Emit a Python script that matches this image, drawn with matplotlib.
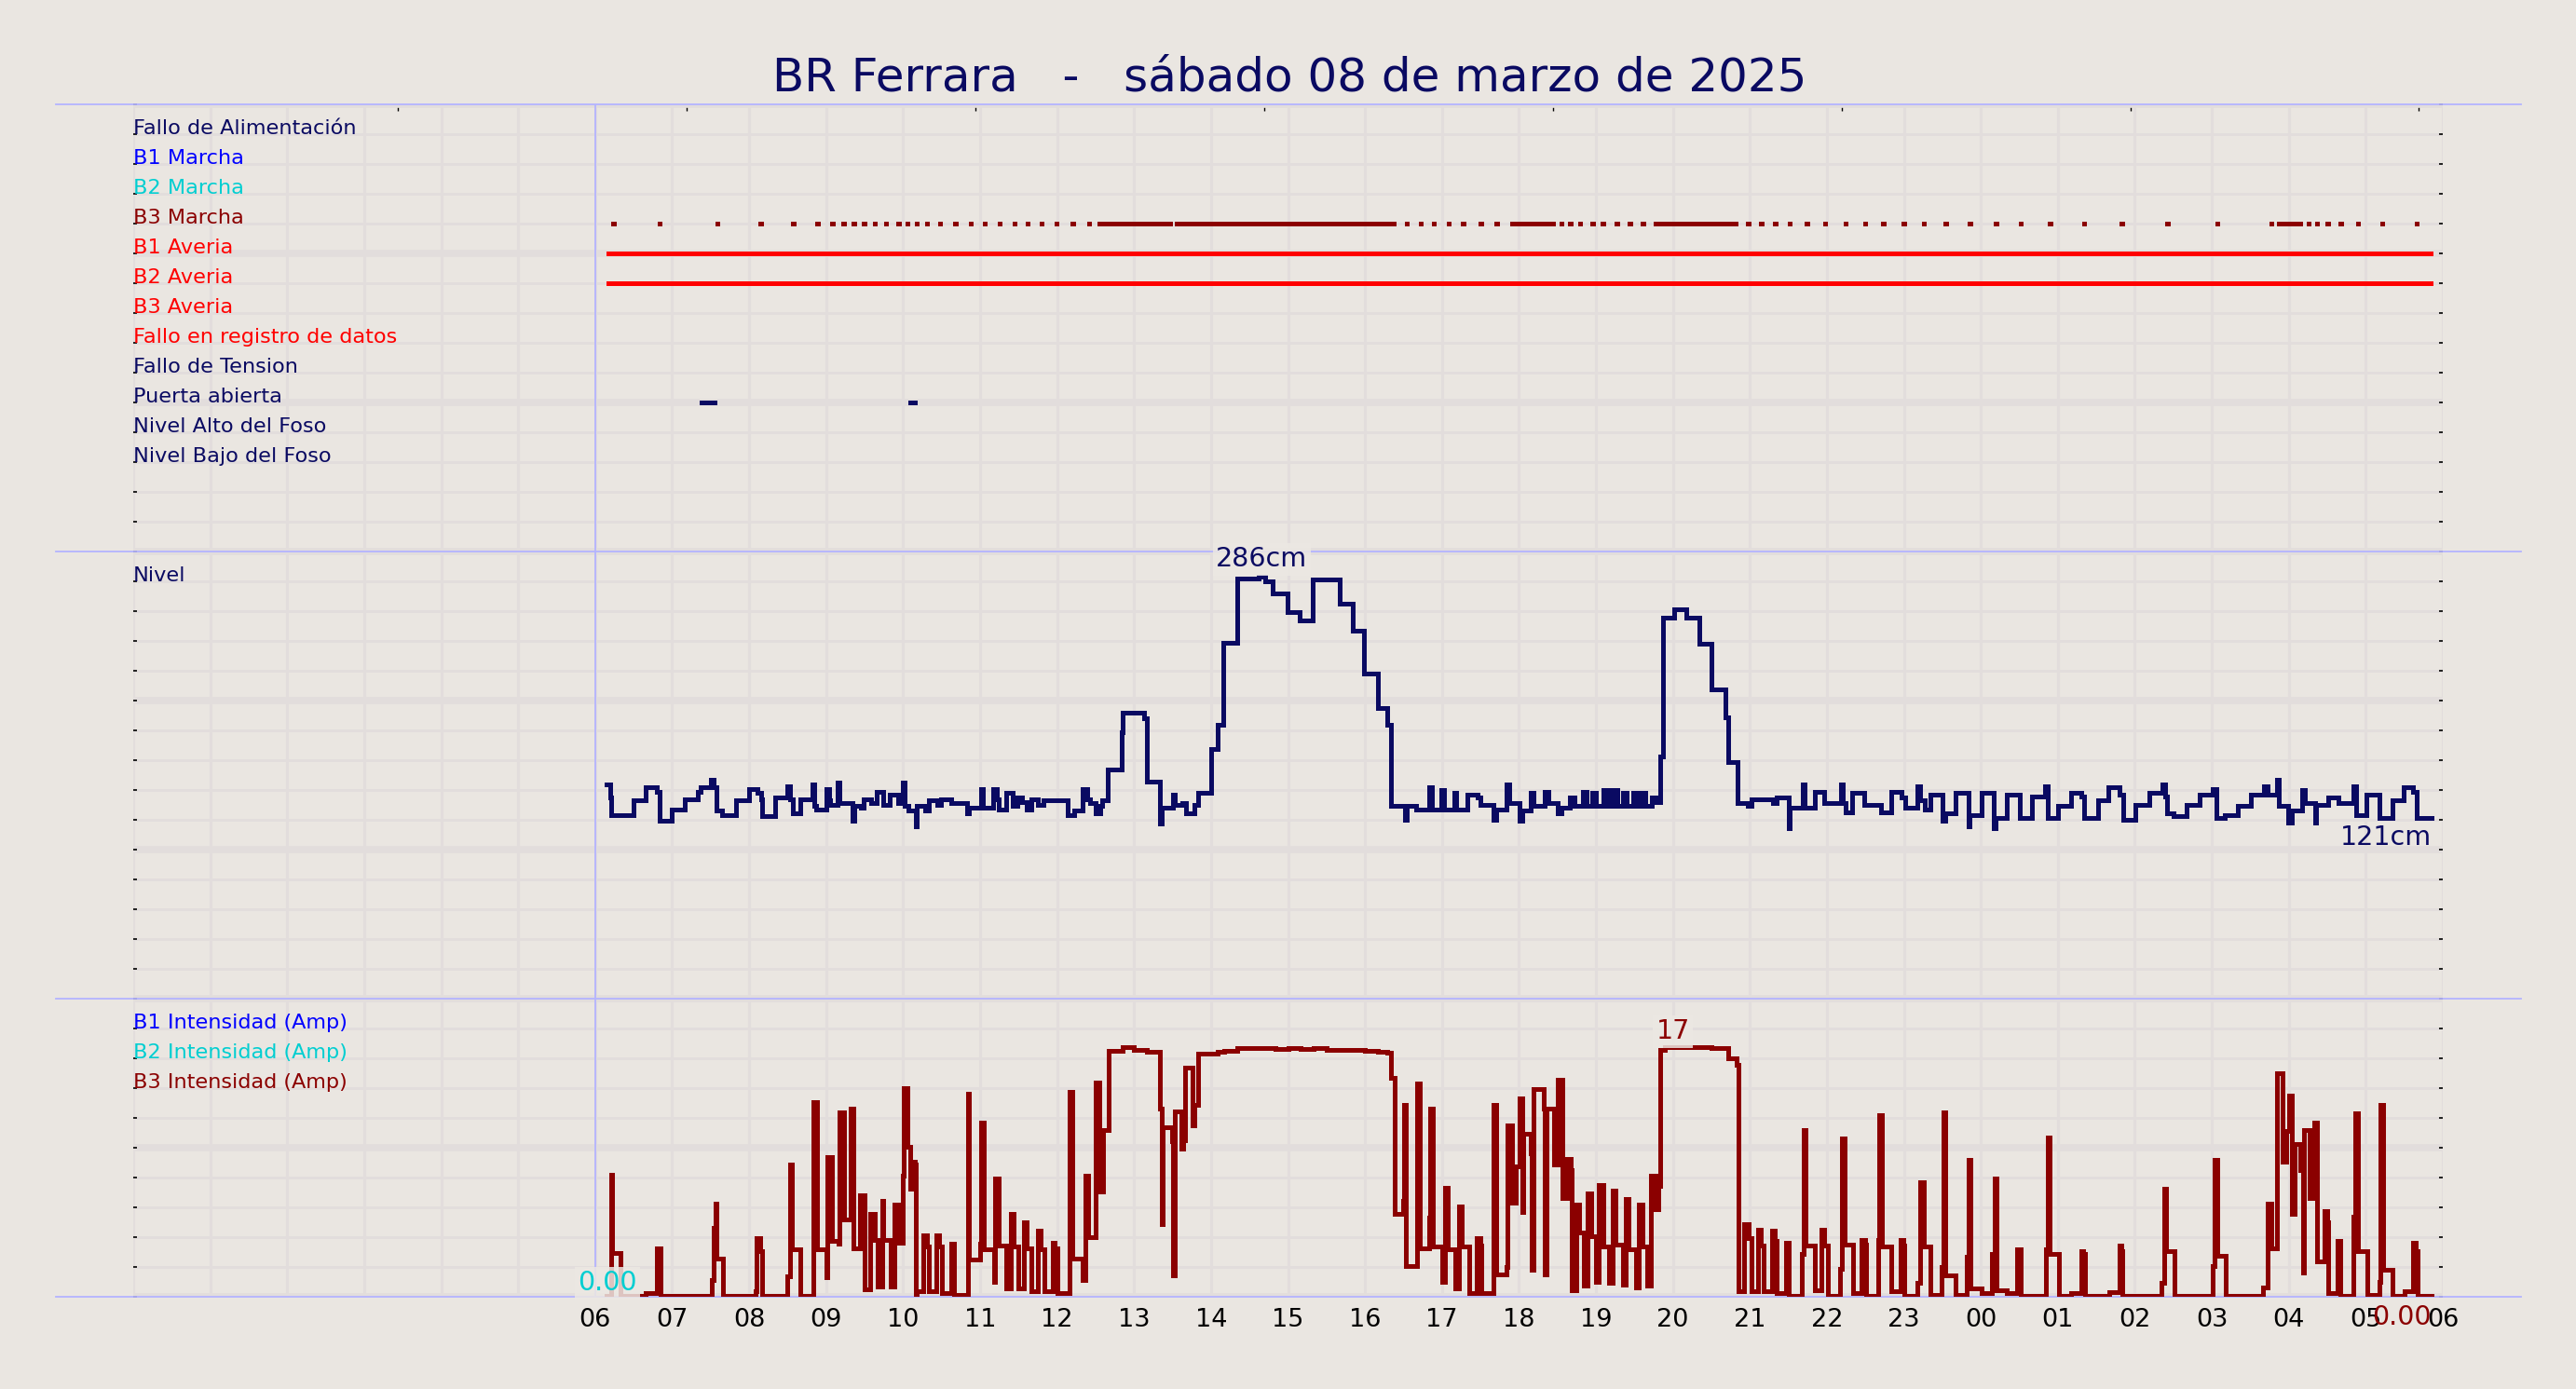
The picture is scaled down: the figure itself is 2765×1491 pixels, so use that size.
import numpy as np
import matplotlib
matplotlib.use("Agg")
import matplotlib.pyplot as plt

BG = "#eae6e1"
GRID = "#e2dddc"
SEP = "#b4b4ff"
NAVY = "#0a0a62"
BOX = dict(boxstyle="square,pad=0.12", fc="#ece8e3", ec="none", alpha=0.85)

title = "BR Ferrara   -   sábado 08 de marzo de 2025"

# x axis: hours from 00:00 of the day before to 06:00 of the next day
hour_ticks = list(range(6, 31))
hour_labels = ["06", "07", "08", "09", "10", "11", "12", "13", "14", "15", "16", "17",
               "18", "19", "20", "21", "22", "23", "00", "01", "02", "03", "04", "05", "06"]
top_ticks = [3.44, 7.19, 10.94, 14.69, 18.44, 22.19, 25.94, 29.69]

# status rows (top panel)
status_labels = ["Fallo de Alimentación", "B1 Marcha", "B2 Marcha", "B3 Marcha",
                 "B1 Averia", "B2 Averia", "B3 Averia", "Fallo en registro de datos",
                 "Fallo de Tension", "Puerta abierta", "Nivel Alto del Foso", "Nivel Bajo del Foso"]
status_colors = [NAVY, "blue", "darkturquoise", "darkred", "red", "red", "red", "red",
                 NAVY, NAVY, NAVY, NAVY]

b3_marcha_starts = [6.210, 6.812, 7.560, 8.120, 8.544, 8.858, 9.053, 9.198, 9.333, 9.469,
                    9.605, 9.750, 9.911, 10.030, 10.148, 10.284, 10.455, 10.650, 10.853,
                    11.032, 11.227, 11.422, 11.592, 11.770, 11.965, 12.178, 12.390, 12.526,
                    16.516, 16.695, 16.864, 17.060, 17.247, 17.475, 17.680, 17.883, 18.524,
                    18.640, 18.766, 18.928, 19.063, 19.243, 19.413, 19.584, 19.746, 20.950,
                    21.122, 21.301, 21.490, 21.715, 21.948, 22.218, 22.470, 22.703, 22.973,
                    23.234, 23.513, 23.828, 24.169, 24.493, 24.871, 25.311, 25.805, 26.399,
                    27.046, 27.747, 28.232, 28.340, 28.475, 28.646, 28.871, 29.186, 29.635]
b3_marcha_dash = 0.055
b3_marcha_runs = [(12.594, 13.494), (13.528, 16.397), (17.948, 18.465),
                  (19.809, 20.843), (27.846, 28.169)]
b1_averia = [(6.150, 29.861)]
b2_averia = [(6.150, 29.861)]
puerta_abierta = [(7.356, 7.577), (10.072, 10.173)]

# level (cm), step series
level_t = [6.150, 6.190, 6.205, 6.502, 6.660, 6.798, 6.833, 6.991, 7.159, 7.337, 7.366, 7.500,
           7.534, 7.574, 7.653, 7.830, 7.994, 8.107, 8.152, 8.166, 8.334, 8.497, 8.527, 8.562,
           8.660, 8.828, 8.843, 8.873, 9.006, 9.041, 9.056, 9.154, 9.179, 9.337, 9.367, 9.451,
           9.490, 9.584, 9.663, 9.737, 9.831, 9.935, 9.994, 10.019, 10.068, 10.167, 10.182,
           10.291, 10.330, 10.439, 10.498, 10.627, 10.834, 10.859, 11.007, 11.032, 11.170,
           11.219, 11.239, 11.338, 11.427, 11.486, 11.550, 11.600, 11.664, 11.753, 11.822,
           12.143, 12.217, 12.331, 12.390, 12.425, 12.499, 12.563, 12.588, 12.662, 12.835,
           12.850, 13.131, 13.163, 13.335, 13.360, 13.502, 13.533, 13.626, 13.669, 13.780,
           13.829, 13.996, 14.089, 14.163, 14.336, 14.620, 14.700, 14.799, 14.996, 15.157,
           15.324, 15.670, 15.836, 15.991, 16.164, 16.293, 16.336, 16.522, 16.545, 16.664,
           16.837, 16.868, 16.991, 17.022, 17.158, 17.189, 17.331, 17.467, 17.504, 17.670,
           17.701, 17.843, 17.874, 18.010, 18.041, 18.152, 18.189, 18.331, 18.380, 18.504,
           18.547, 18.658, 18.720, 18.831, 18.881, 18.948, 18.998, 19.091, 19.152, 19.214,
           19.276, 19.356, 19.399, 19.479, 19.541, 19.585, 19.646, 19.727, 19.770, 19.832,
           19.875, 20.017, 20.171, 20.338, 20.498, 20.677, 20.714, 20.838, 20.974, 21.023,
           21.295, 21.344, 21.499, 21.517, 21.684, 21.715, 21.838, 21.962, 22.178, 22.209,
           22.240, 22.332, 22.479, 22.700, 22.833, 22.967, 23.013, 23.180, 23.214, 23.267,
           23.347, 23.501, 23.534, 23.668, 23.835, 23.855, 24.015, 24.168, 24.188, 24.335,
           24.502, 24.669, 24.836, 24.870, 25.003, 25.170, 25.304, 25.337, 25.524, 25.657,
           25.804, 25.844, 26.005, 26.185, 26.359, 26.392, 26.419, 26.505, 26.672, 26.839,
           27.006, 27.060, 27.173, 27.340, 27.507, 27.674, 27.727, 27.841, 27.874, 27.994,
           28.041, 28.175, 28.208, 28.342, 28.355, 28.509, 28.642, 28.842, 28.876, 29.009,
           29.176, 29.343, 29.490, 29.610, 29.664, 29.853]
level_cm = [144, 135, 123, 133, 142, 139, 119, 127, 134, 139, 142, 147,
            142, 126, 123, 133, 141, 138, 134, 122, 135, 143, 134, 124,
            134, 144, 129, 127, 141, 133, 130, 145, 131, 119, 129, 128,
            134, 131, 139, 130, 137, 131, 145, 129, 126, 115, 129,
            126, 133, 130, 134, 131, 124, 128, 141, 128, 141,
            134, 127, 138, 129, 135, 132, 127, 134, 130, 133,
            123, 126, 141, 134, 131, 124, 129, 133, 154, 180,
            193, 189, 146, 117, 128, 137, 130, 131, 124, 130,
            138, 168, 185, 241, 285, 286, 283, 275, 262, 256,
            284, 268, 249, 220, 196, 185, 129, 120, 129, 127,
            142, 127, 140, 127, 138, 127, 137, 135, 130, 120,
            127, 144, 131, 119, 126, 138, 129, 139, 131, 124,
            128, 135, 129, 139, 129, 138, 129, 140, 129, 140,
            129, 138, 129, 138, 129, 138, 129, 135, 132, 163,
            258, 264, 258, 240, 209, 190, 159, 131, 129, 134,
            131, 135, 114, 128, 144, 128, 139, 131, 144, 131,
            125, 138, 130, 125, 139, 135, 128, 143, 133, 127,
            137, 119, 124, 138, 115, 123, 138, 114, 121, 137,
            121, 136, 143, 121, 129, 138, 136, 121, 133, 142,
            137, 120, 130, 138, 144, 136, 124, 122, 130, 137,
            141, 121, 123, 129, 137, 143, 137, 147, 129, 118,
            126, 140, 131, 118, 130, 135, 131, 143, 123, 137,
            121, 133, 142, 139, 121, 121]

# B3 current (A), step series
amp_t = [6.150, 6.210, 6.225, 6.330, 6.660, 6.800, 6.850, 7.510, 7.540, 7.560, 7.580, 7.660,
         8.080, 8.100, 8.140, 8.170, 8.500, 8.530, 8.550, 8.670, 8.840, 8.880, 9.000, 9.020,
         9.072, 9.161, 9.173, 9.230, 9.314, 9.322, 9.355, 9.443, 9.496, 9.504, 9.573, 9.633,
         9.673, 9.726, 9.746, 9.839, 9.887, 9.936, 10.000, 10.008, 10.061, 10.089, 10.129,
         10.149, 10.170, 10.178, 10.262, 10.311, 10.331, 10.432, 10.472, 10.504, 10.621,
         10.662, 10.843, 10.855, 11.005, 11.017, 11.045, 11.178, 11.198, 11.239, 11.339,
         11.400, 11.440, 11.501, 11.569, 11.602, 11.662, 11.755, 11.783, 11.836, 11.945,
         11.973, 12.005, 12.166, 12.195, 12.328, 12.368, 12.408, 12.501, 12.550, 12.598,
         12.671, 12.852, 12.993, 13.167, 13.336, 13.357, 13.377, 13.490, 13.510, 13.530,
         13.619, 13.639, 13.659, 13.760, 13.780, 13.832, 14.083, 14.171, 14.345, 14.837,
         15.011, 15.164, 15.333, 15.503, 15.999, 16.172, 16.293, 16.334, 16.390, 16.491,
         16.511, 16.535, 16.673, 16.713, 16.838, 16.850, 16.882, 17.007, 17.035, 17.076,
         17.177, 17.221, 17.261, 17.350, 17.451, 17.504, 17.512, 17.665, 17.673, 17.705,
         17.842, 17.854, 17.907, 17.963, 18.008, 18.048, 18.056, 18.157, 18.169, 18.189,
         18.326, 18.338, 18.359, 18.451, 18.500, 18.508, 18.560, 18.621, 18.669, 18.681,
         18.750, 18.782, 18.843, 18.895, 18.944, 19.004, 19.037, 19.093, 19.174, 19.218,
         19.259, 19.347, 19.388, 19.428, 19.517, 19.557, 19.601, 19.670, 19.718, 19.771,
         19.811, 19.839, 19.900, 20.100, 20.497, 20.719, 20.828, 20.848, 20.929, 20.981,
         21.021, 21.102, 21.142, 21.183, 21.284, 21.324, 21.344, 21.473, 21.505, 21.679,
         21.695, 21.727, 21.848, 21.929, 21.969, 22.010, 22.171, 22.191, 22.232, 22.345,
         22.453, 22.494, 22.514, 22.667, 22.675, 22.716, 22.837, 22.958, 22.998, 23.010,
         23.180, 23.212, 23.260, 23.349, 23.494, 23.510, 23.543, 23.676, 23.813, 23.837,
         23.865, 24.009, 24.145, 24.174, 24.198, 24.333, 24.469, 24.516, 24.847, 24.865,
         24.894, 25.012, 25.172, 25.307, 25.331, 25.355, 25.662, 25.797, 25.821, 25.839,
         26.341, 26.382, 26.411, 26.518, 27.007, 27.031, 27.067, 27.179, 27.669, 27.728,
         27.769, 27.846, 27.923, 27.964, 27.999, 28.041, 28.070, 28.153, 28.188, 28.200,
         28.271, 28.336, 28.365, 28.466, 28.495, 28.513, 28.631, 28.672, 28.837, 28.867,
         28.896, 29.014, 29.174, 29.191, 29.221, 29.351, 29.499, 29.617, 29.646, 29.676,
         29.853]
b3_amp = [0.0, 8.4, 3.0, 0.0, 0.2, 3.3, 0.0, 1.1, 4.7, 6.4, 2.6, 0.0,
          0.3, 4.0, 3.1, 0.0, 1.35, 9.1, 3.2, 0.0, 13.4, 3.2, 1.3, 9.6,
          3.8, 3.6, 12.7, 5.3, 7.0, 13.0, 3.3, 7.0, 6.3, 0.45, 5.7, 3.9,
          0.65, 6.6, 3.9, 0.65, 6.3, 3.7, 8.3, 14.4, 10.3, 7.4, 9.3,
          9.1, 0.1, 0.3, 4.2, 3.4, 0.3, 4.2, 3.4, 0.2, 3.6,
          0.1, 14.0, 2.5, 3.6, 12.0, 3.25, 1.0, 8.1, 3.5, 0.5,
          5.7, 3.4, 0.5, 5.1, 3.3, 0.35, 4.5, 3.2, 0.3, 3.7,
          3.3, 0.2, 14.1, 2.6, 1.1, 8.3, 4.1, 14.8, 7.2, 11.5,
          17.0, 17.2, 17.05, 16.9, 13.0, 5.0, 11.7, 10.7, 1.4, 12.75,
          10.2, 10.8, 15.8, 11.8, 13.2, 16.8, 16.9, 17.0, 17.16, 17.1,
          17.16, 17.1, 17.16, 17.05, 17.0, 16.9, 16.84, 15.1, 5.7, 6.6,
          13.2, 2.1, 14.7, 3.3, 5.4, 13.0, 3.4, 1.0, 7.5, 3.2,
          0.5, 6.2, 3.4, 0.2, 4.0, 3.5, 0.2, 1.5, 13.2, 1.5,
          2.0, 11.8, 6.45, 8.95, 13.7, 5.8, 11.25, 9.9, 1.8, 14.3,
          13.0, 1.5, 13.0, 9.1, 10.0, 15.0, 6.8, 9.5, 8.7, 0.4,
          6.3, 4.4, 0.7, 7.1, 4.15, 1.0, 7.7, 3.4, 0.9, 7.3,
          3.55, 0.75, 6.7, 3.25, 0.56, 6.3, 3.4, 0.7, 8.3, 6.0,
          7.6, 17.05, 17.25, 17.2, 17.16, 16.45, 16.0, 0.3, 5.0, 4.0,
          0.3, 4.6, 3.5, 0.3, 4.55, 3.8, 0.2, 3.7, 0.0, 2.9,
          11.5, 3.5, 0.4, 4.6, 3.5, 0.0, 1.9, 10.9, 3.55, 0.2,
          3.9, 3.55, 0.0, 3.9, 12.5, 3.4, 0.3, 3.9, 3.5, 0.0,
          0.9, 7.85, 3.4, 0.1, 2.0, 12.7, 1.4, 0.1, 2.7, 9.4,
          0.5, 0.2, 2.9, 8.1, 0.4, 0.2, 3.2, 0.0, 3.2, 11.0,
          2.9, 0.0, 0.2, 3.1, 2.9, 0.0, 0.25, 3.5, 3.1, 0.0,
          0.9, 7.4, 3.1, 0.0, 2.1, 9.4, 2.75, 0.0, 0.6, 6.4,
          3.3, 15.4, 9.3, 11.4, 13.9, 5.7, 10.5, 8.7, 1.6, 11.5,
          6.8, 12.0, 2.4, 5.9, 5.1, 0.2, 3.8, 0.0, 5.5, 12.65,
          3.1, 0.1, 1.0, 13.2, 1.8, 0.0, 0.3, 3.7, 3.1, 0.0,
          0.0]
b2_amp_t = [6.160]
b2_amp = [0.0]

amp_labels = ["B1 Intensidad (Amp)", "B2 Intensidad (Amp)", "B3 Intensidad (Amp)"]
amp_colors = ["blue", "darkturquoise", "darkred"]

LABEL_FS = 16.1

W, H = 2765, 1491
fig = plt.figure(figsize=(W / 100, H / 100), dpi=100, facecolor=BG)

# background axes in "row" units: 40 rows of 32 px
L, R, T, B = 143, 2622, 112, 1392
axg = fig.add_axes([L / W, 1 - B / H, (R - L) / W, (B - T) / H])
axg.set_facecolor(BG)
axg.set_xlim(0, 30)
axg.set_ylim(0, 40)
axg.set_axisbelow(True)
for s in axg.spines.values():
    s.set_visible(False)
axg.set_xticks(hour_ticks)
axg.set_xticklabels(hour_labels, fontsize=19.5)
axg.set_xticks(range(0, 31), minor=True)
axg.set_yticks(range(0, 41, 5))
axg.set_yticks(range(0, 41), minor=True)
axg.tick_params(axis="x", which="both", length=0, pad=8.5)
axg.tick_params(axis="y", which="both", direction="in", left=True, right=True,
                length=3, width=1.2, labelleft=False)
axg.grid(True, axis="x", which="both", color=GRID, lw=2.2)
axg.grid(True, axis="y", which="minor", color=GRID, lw=2)
axg.grid(True, axis="y", which="major", color=GRID, lw=5.5)

sec = axg.secondary_xaxis("top")
sec.set_xticks(top_ticks)
sec.tick_params(direction="in", length=5, width=1, labeltop=False)
sec.spines["top"].set_visible(False)

for y in [40, 25, 10, 0]:
    axg.axhline(y, xmin=-0.0335, xmax=1.0339, color=SEP, lw=1.3, clip_on=False, zorder=3)
axg.axvline(6, color=SEP, lw=1.3, zorder=3)

# status panel
rows = [39 - i for i in range(len(status_labels))]
for y, lab, col in zip(rows, status_labels, status_colors):
    axg.text(0.0, y, lab, color=col, fontsize=LABEL_FS, ha="left", va="baseline", zorder=5)

def events(row, spans, color):
    starts = [a for a, b in spans]
    ends = [b for a, b in spans]
    axg.hlines([row] * len(spans), starts, ends, colors=color, lw=2.4,
               capstyle="butt", antialiased=False, zorder=4)

events(rows[3], [(s, s + b3_marcha_dash) for s in b3_marcha_starts] + b3_marcha_runs, "darkred")
events(rows[4], b1_averia, "red")
events(rows[5], b2_averia, "red")
events(rows[9], puerta_abierta, NAVY)

# level panel
ax_lvl = fig.add_axes([L / W, 1 - 1072 / H, (R - L) / W, 480 / H])
ax_lvl.set_axis_off()
ax_lvl.set_xlim(0, 30)
ax_lvl.set_ylim(-2.7, 303.4)
ax_lvl.step(level_t, level_cm, where="post", color=NAVY, lw=2.4,
            solid_joinstyle="miter", antialiased=False)
axg.text(0.0, 24, "Nivel", color=NAVY, fontsize=LABEL_FS, ha="left", va="baseline", zorder=5)
i = int(np.argmax(level_cm))
ax_lvl.annotate(f"{level_cm[i]}cm", ((level_t[i] + level_t[i + 1]) / 2, level_cm[i]),
                xytext=(0, 8), textcoords="offset points", ha="center", va="baseline",
                fontsize=20.5, color=NAVY, bbox=BOX, zorder=6)
ax_lvl.annotate(f"{level_cm[-1]}cm", (level_t[-1], level_cm[-1]),
                xytext=(0, -5), textcoords="offset points", ha="right", va="top",
                fontsize=20.5, color=NAVY, zorder=6)

# current panel
ax_amp = fig.add_axes([L / W, 1 - B / H, (R - L) / W, 320 / H])
ax_amp.set_axis_off()
ax_amp.set_xlim(0, 30)
ax_amp.set_ylim(-0.06, 20.58)
ax_amp.step(amp_t, b3_amp, where="post", color="darkred", lw=2.2,
            solid_joinstyle="miter", antialiased=False)
for y, lab, col in zip([9, 8, 7], amp_labels, amp_colors):
    axg.text(0.0, y, lab, color=col, fontsize=LABEL_FS, ha="left", va="baseline", zorder=5)
j = int(np.argmax(b3_amp))
ax_amp.annotate(f"{b3_amp[j]:.0f}", ((amp_t[j] + amp_t[j + 1]) / 2, b3_amp[j]),
                xytext=(0, 6), textcoords="offset points", ha="center", va="baseline",
                fontsize=20.5, color="darkred", bbox=BOX, zorder=6)
ax_amp.annotate(f"{b3_amp[-1]:.2f}", (amp_t[-1], b3_amp[-1]),
                xytext=(0, -6.5), textcoords="offset points", ha="right", va="top",
                fontsize=20.5, color="darkred", zorder=6, annotation_clip=False)
ax_amp.annotate(f"{max(b2_amp):.2f}", (b2_amp_t[0], max(b2_amp)),
                xytext=(0, 4.3), textcoords="offset points", ha="center", va="baseline",
                fontsize=20.5, color="darkturquoise", bbox=BOX, zorder=6)

fig.text(0.5006, 1 - 98 / H, title, ha="center", va="baseline", fontsize=36, color=NAVY)

fig.savefig("out.png", dpi=100, facecolor=BG)
